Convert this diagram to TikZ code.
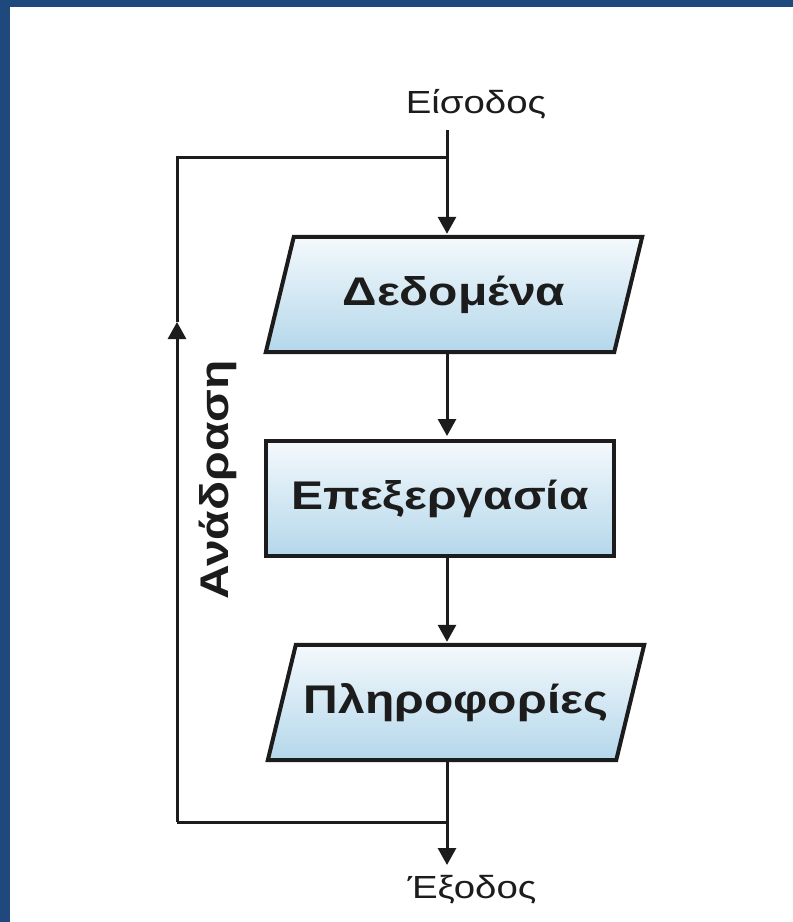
\documentclass[tikz,border=0pt]{standalone}
\usepackage{fontspec}
\usetikzlibrary{arrows.meta}
\pgfdeclarelayer{bg}
\pgfsetlayers{bg,main}
\newfontfamily\diagfont{Liberation Sans}[FakeStretch=1.2]
\definecolor{framebl}{HTML}{1F497D}
\definecolor{boxtop}{HTML}{F4F9FC}
\definecolor{boxbot}{HTML}{B4D7EB}
\definecolor{ink}{HTML}{1C1C1C}

\begin{document}
\begin{tikzpicture}[x=1pt,y=-1pt,
    flow/.style={line width=3pt,draw=ink,-{Triangle[width=18pt,length=17pt]},shorten >=3pt},
    link/.style={line width=3pt,draw=ink},
    boxtext/.style={font=\diagfont\bfseries\fontsize{40}{48}\selectfont,text=ink},
    tag/.style={font=\diagfont\fontsize{32}{38}\selectfont,text=ink},
    stepbox/.style={boxtext,minimum width=348pt,minimum height=115pt,inner sep=0pt},
    shaded/.style={line width=4pt,draw=ink,top color=boxtop,bottom color=boxbot}]
        \useasboundingbox (0,0) rectangle (793,922);
        \fill[framebl] (0,0) rectangle (793,7);
        \fill[framebl] (0,0) rectangle (10,922);

        \node[tag] (in) at (476,104) {Είσοδος};
        \node[stepbox] (dat) at (454,294.5) {Δεδομένα};
        \node[stepbox,shaded] (proc) at (440,498.5) {Επεξεργασία};
        \node[stepbox] (info) at (456,702.5) {Πληροφορίες};
        \node[tag] (out) at (472,890) {Έξοδος};
        \node[boxtext,rotate=90] (fb) at (218,480) {Ανάδραση};

        \begin{pgfonlayer}{bg}
            \foreach \b in {dat,info} {
                \draw[shaded] ([xshift=14pt]\b.north west) -- ([xshift=14pt]\b.north east)
                    -- ([xshift=-14pt]\b.south east) -- ([xshift=-14pt]\b.south west) -- cycle;
            }
        \end{pgfonlayer}

        \coordinate (start) at (447,130);
        \coordinate (fbtop) at (177,157);
        \coordinate (fbmid) at (177,322);
        \coordinate (fbbot) at (177,822);
        \coordinate (end) at (447,868);

        \draw[flow] (start) -- (start |- dat.north);
        \draw[flow] (start |- dat.south) -- (start |- proc.north);
        \draw[flow] (start |- proc.south) -- (start |- info.north);
        \draw[flow] (start |- info.south) -- (end);
        \draw[link] (start |- fbbot) -- (fbbot);
        \draw[flow,shorten >=0pt] (fbbot) -- (fbmid);
        \draw[link] (fbmid) -- (fbtop) -- (start |- fbtop);
\end{tikzpicture}
\end{document}
